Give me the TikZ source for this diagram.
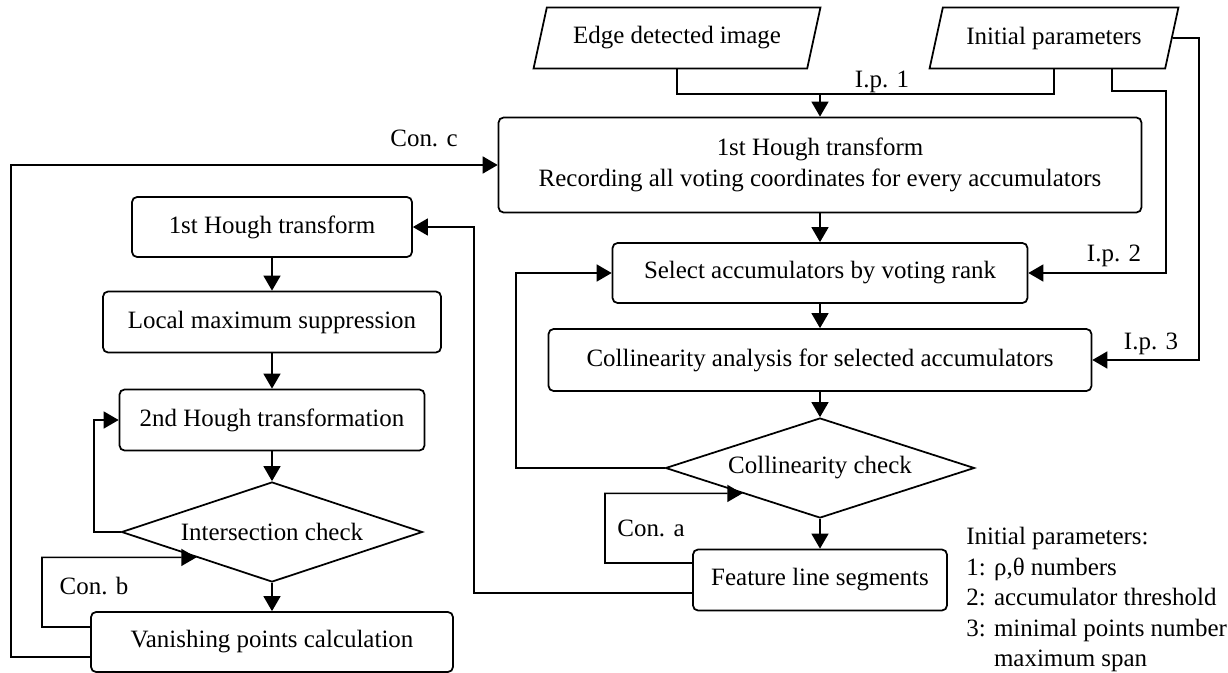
\documentclass[tikz,border=0pt]{standalone}
\usepackage{fontspec}
\setmainfont{Liberation Serif}
\usetikzlibrary{shapes.geometric,arrows.meta}

\begin{document}
\begin{tikzpicture}[
x=0.02cm, y=-0.02cm,
every node/.style={font=\fontsize{14.2}{17.4}\selectfont},
box/.style={
draw,
line width=1pt,
rounded corners=0.1cm,
align=center,
minimum height=1.2cm
},
io/.style={
draw,
line width=1pt,
trapezium,
trapezium left angle=72,
trapezium right angle=108,
trapezium stretches=true,
minimum height=1.22cm
},
check/.style={
draw,
line width=1pt,
diamond,
aspect=3,
inner sep=1pt,
minimum height=2cm
},
lbl/.style={inner sep=0pt},
line/.style={line width=0.9pt},
arr/.style={line width=0.9pt, -{Triangle[length=0.3cm,width=0.34cm]}}
]

\useasboundingbox (0,0) rectangle (1228,673);

% inputs
\node[io, minimum width=5.74cm] (edge)
at (677,38)
{Edge detected image};

\node[io, minimum width=4.98cm] (init)
at (1054,38)
{Initial parameters};

% right column
\node[box, minimum width=12.86cm, minimum height=1.9cm] (hough)
at (820,165)
{1st Hough transform\\Recording all voting coordinates for every accumulators};

\node[box, minimum width=8.3cm] (select)
at (820,273)
{Select accumulators by voting rank};

\node[box, minimum width=10.86cm, minimum height=1.24cm] (analysis)
at (820,360)
{Collinearity analysis for selected accumulators};

\node[check, minimum width=6.18cm] (colcheck)
at (820,468)
{Collinearity check};

\node[box, minimum width=5.08cm, minimum height=1.22cm] (segments)
at (820,580)
{Feature line segments};

% left column
\node[box, minimum width=5.6cm] (houghA)
at (272,227)
{1st Hough transform};

\node[box, minimum width=6.76cm, minimum height=1.22cm] (localmax)
at (272,322)
{Local maximum suppression};

\node[box, minimum width=6.1cm, minimum height=1.22cm] (houghB)
at (272,420)
{2nd Hough transformation};

\node[check, minimum width=6.02cm] (intcheck)
at (272,532)
{Intersection check};

\node[box, minimum width=7.24cm] (vanish)
at (272,642)
{Vanishing points calculation};

% labels
\node[lbl] (lip1) at (882,82) {I.p. 1};
\node[lbl] (lip2) at (1114,256) {I.p. 2};
\node[lbl] (lip3) at (1151,344) {I.p. 3};
\node[lbl] (lconA) at (651,528) {Con. a};
\node[lbl] (lconB) at (94,586) {Con. b};
\node[lbl] (lconC) at (424,138) {Con. c};

\node[lbl, anchor=north west, align=left] (legend)
at (966,527)
{Initial parameters:\\1: ρ,θ numbers\\2: accumulator threshold\\3: minimal points number\\\phantom{3: }maximum span};

% bends
\coordinate (ip1) at (820,94);
\coordinate (ip2) at (1166,91);
\coordinate (ip3) at (1199,38);
\coordinate (loopA) at (516,468);
\coordinate (conA) at (605,563);
\coordinate (back) at (474,227);
\coordinate (loopB) at (94,532);
\coordinate (conB) at (42,627);
\coordinate (conC) at (11,657);

\draw[line] (edge) |- (ip1) -| (init.south);
\draw[arr] (ip1) -- (hough);
\draw[arr] ([xshift=1.16cm]init.south) |- (ip2) |- (select.east);
\draw[arr] (init.east) -- (ip3) |- (analysis.east);

\draw[arr] (hough) -- (select);
\draw[arr] (select) -- (analysis);
\draw[arr] (analysis) -- (colcheck);
\draw[arr] (colcheck) -- (segments);
\draw[arr] (colcheck.west) -- (loopA) |- (select.west);
\draw[arr] ([yshift=0.34cm]segments.west) -- (conA) |- (colcheck.south west);
\draw[arr] ([yshift=-0.26cm]segments.west) -| (back) -- (houghA);

\draw[arr] (houghA) -- (localmax);
\draw[arr] (localmax) -- (houghB);
\draw[arr] (houghB) -- (intcheck);
\draw[arr] (intcheck) -- (vanish);
\draw[arr] (intcheck.west) -- (loopB) |- (houghB.west);
\draw[arr] ([yshift=0.3cm]vanish.west) -- (conB) |- (intcheck.south west);
\draw[arr] ([yshift=-0.3cm]vanish.west) -- (conC) |- (hough.west);

\end{tikzpicture}
\end{document}
